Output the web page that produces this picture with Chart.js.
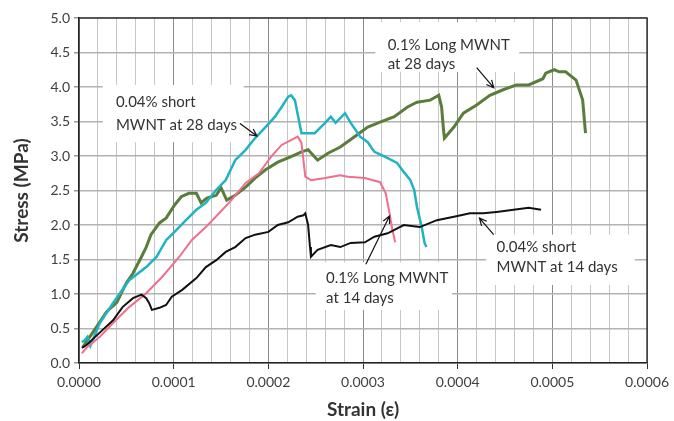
<!DOCTYPE html>
<html>
<head>
<meta charset="utf-8">
<script src="https://cdn.jsdelivr.net/npm/chart.js@4.4.1/dist/chart.umd.min.js"></script>
<style>
  html, body { margin: 0; padding: 0; background: #fff; }
  #wrap { width: 674px; height: 421px; }
</style>
</head>
<body>
<div id="wrap"><canvas id="chart"></canvas></div>
<script>
// Strain values are written in units of 1e-4, stress in MPa
const STRAIN_UNIT = 1e-4;

const xTicks = [0, 1, 2, 3, 4, 5, 6];
const yTicks = [0, 0.5, 1, 1.5, 2, 2.5, 3, 3.5, 4, 4.5, 5];

// 0.1% Long MWNT at 28 days (green)
const long28Strain = [0.04, 0.15, 0.29, 0.40, 0.50, 0.57, 0.66, 0.71, 0.76, 0.85, 0.92, 1.01, 1.08, 1.16, 1.24, 1.29, 1.35, 1.45, 1.50, 1.56, 1.65, 1.76, 1.86, 1.97, 2.10, 2.24, 2.35, 2.42, 2.52, 2.63, 2.76, 2.91, 3.05, 3.18, 3.33, 3.47, 3.57, 3.71, 3.80, 3.83, 3.85, 3.86, 3.96, 4.06, 4.20, 4.34, 4.48, 4.62, 4.75, 4.90, 4.93, 5.02, 5.07, 5.14, 5.25, 5.32, 5.35];
const long28Stress = [0.23, 0.45, 0.74, 0.88, 1.16, 1.30, 1.54, 1.68, 1.86, 2.03, 2.10, 2.29, 2.41, 2.46, 2.46, 2.32, 2.39, 2.43, 2.54, 2.36, 2.43, 2.55, 2.68, 2.80, 2.91, 2.99, 3.06, 3.09, 2.94, 3.04, 3.13, 3.28, 3.42, 3.49, 3.57, 3.71, 3.78, 3.81, 3.88, 3.71, 3.38, 3.26, 3.42, 3.62, 3.74, 3.88, 3.96, 4.03, 4.03, 4.12, 4.20, 4.25, 4.22, 4.22, 4.10, 3.81, 3.33];

// 0.04% short MWNT at 28 days (cyan)
const short28Strain = [0.03, 0.06, 0.09, 0.12, 0.22, 0.36, 0.53, 0.71, 0.82, 0.92, 1.03, 1.13, 1.24, 1.34, 1.45, 1.55, 1.65, 1.76, 1.86, 1.97, 2.07, 2.14, 2.21, 2.24, 2.28, 2.35, 2.49, 2.60, 2.66, 2.71, 2.81, 2.87, 2.97, 3.05, 3.12, 3.23, 3.36, 3.43, 3.50, 3.54, 3.57, 3.62, 3.65, 3.67];
const short28Stress = [0.30, 0.33, 0.38, 0.25, 0.58, 0.87, 1.20, 1.39, 1.54, 1.78, 1.93, 2.07, 2.22, 2.32, 2.51, 2.65, 2.94, 3.09, 3.26, 3.42, 3.57, 3.71, 3.86, 3.88, 3.81, 3.33, 3.33, 3.48, 3.57, 3.48, 3.62, 3.48, 3.28, 3.20, 3.06, 2.99, 2.90, 2.77, 2.65, 2.51, 2.26, 1.97, 1.74, 1.68];

// 0.1% Long MWNT at 14 days (pink)
const long14Strain = [0.03, 0.08, 0.22, 0.36, 0.53, 0.71, 0.88, 1.06, 1.19, 1.34, 1.48, 1.61, 1.76, 1.90, 2.03, 2.14, 2.24, 2.31, 2.35, 2.39, 2.45, 2.60, 2.76, 2.84, 3.02, 3.18, 3.24, 3.28, 3.31, 3.34];
const long14Stress = [0.14, 0.22, 0.38, 0.58, 0.81, 1.01, 1.25, 1.54, 1.78, 1.97, 2.17, 2.36, 2.61, 2.75, 2.99, 3.16, 3.23, 3.28, 3.19, 2.70, 2.65, 2.68, 2.72, 2.70, 2.68, 2.62, 2.46, 2.17, 1.93, 1.75];

// 0.04% short MWNT at 14 days (black)
const short14Strain = [0.03, 0.08, 0.25, 0.36, 0.46, 0.57, 0.66, 0.71, 0.74, 0.77, 0.85, 0.92, 0.98, 1.09, 1.24, 1.34, 1.45, 1.55, 1.65, 1.76, 1.86, 2.00, 2.10, 2.21, 2.31, 2.37, 2.39, 2.42, 2.44, 2.45, 2.52, 2.66, 2.76, 2.87, 3.02, 3.12, 3.26, 3.43, 3.60, 3.78, 3.96, 4.13, 4.27, 4.41, 4.59, 4.75, 4.88];
const short14Stress = [0.22, 0.26, 0.48, 0.62, 0.81, 0.94, 0.99, 0.94, 0.87, 0.77, 0.80, 0.84, 0.96, 1.06, 1.23, 1.39, 1.49, 1.61, 1.68, 1.81, 1.86, 1.90, 2.00, 2.04, 2.12, 2.14, 2.17, 2.00, 1.68, 1.54, 1.64, 1.71, 1.68, 1.74, 1.75, 1.83, 1.88, 2.00, 1.97, 2.07, 2.12, 2.17, 2.17, 2.19, 2.22, 2.25, 2.22];

// Callout labels (strain in 1e-4, stress in MPa)
const notes = [
  { lines: ['0.04% short', 'MWNT at 28 days'], box: [0.25, 4.03, 1.74, 3.20], textX: 0.39, textY: [3.78, 3.45], arrow: [[1.70, 3.47], [1.88, 3.29]] },
  { lines: ['0.1% Long MWNT', 'at 28 days'], box: [3.13, 4.94, 4.65, 4.22], textX: 3.26, textY: [4.61, 4.33], arrow: [[4.20, 4.28], [4.38, 3.99]] },
  { lines: ['0.1% Long MWNT', 'at 14 days'], box: [2.50, 1.46, 3.94, 0.77], textX: 2.61, textY: [1.23, 0.94], arrow: [[3.03, 1.43], [3.28, 2.13]] },
  { lines: ['0.04% short', 'MWNT at 14 days'], box: [4.30, 1.86, 5.87, 1.13], textX: 4.41, textY: [1.68, 1.39], arrow: [[4.38, 1.86], [4.23, 2.10]] }
];

function toPoints(xs, ys) {
  return xs.map((v, i) => ({ x: v * STRAIN_UNIT, y: ys[i] }));
}

function line(data, color, width) {
  return {
    data: data,
    borderColor: color,
    borderWidth: width,
    pointRadius: 0,
    showLine: true,
    tension: 0,
    fill: false
  };
}

const notesPlugin = {
  id: 'notes',
  beforeDatasetsDraw(chart) {
    const { ctx, chartArea: a, scales: { x, y } } = chart;
    const X = v => x.getPixelForValue(v * STRAIN_UNIT);
    const Y = v => y.getPixelForValue(v);
    ctx.save();
    // frame on top and right
    ctx.strokeStyle = '#333';
    ctx.lineWidth = 1.5;
    ctx.beginPath();
    ctx.moveTo(a.left, a.top);
    ctx.lineTo(a.right, a.top);
    ctx.lineTo(a.right, a.bottom);
    ctx.stroke();
    notes.forEach(n => {
      ctx.fillStyle = '#fff';
      ctx.fillRect(X(n.box[0]), Y(n.box[1]), X(n.box[2]) - X(n.box[0]), Y(n.box[3]) - Y(n.box[1]));
      ctx.fillStyle = '#333';
      ctx.font = '15px Lato';
      ctx.textBaseline = 'middle';
      n.lines.forEach((t, i) => ctx.fillText(t, X(n.textX), Y(n.textY[i])));
    });
    ctx.restore();
  },
  afterDatasetsDraw(chart) {
    const { ctx, scales: { x, y } } = chart;
    const X = v => x.getPixelForValue(v * STRAIN_UNIT);
    const Y = v => y.getPixelForValue(v);
    ctx.save();
    ctx.strokeStyle = '#111';
    ctx.lineWidth = 1.2;
    notes.forEach(n => {
      const x0 = X(n.arrow[0][0]), y0 = Y(n.arrow[0][1]);
      const x1 = X(n.arrow[1][0]), y1 = Y(n.arrow[1][1]);
      const ang = Math.atan2(y1 - y0, x1 - x0);
      ctx.beginPath();
      ctx.moveTo(x0, y0);
      ctx.lineTo(x1, y1);
      ctx.moveTo(x1 - 8 * Math.cos(ang - 0.45), y1 - 8 * Math.sin(ang - 0.45));
      ctx.lineTo(x1, y1);
      ctx.lineTo(x1 - 8 * Math.cos(ang + 0.45), y1 - 8 * Math.sin(ang + 0.45));
      ctx.stroke();
    });
    ctx.restore();
  }
};

Chart.defaults.font.family = 'Lato, "DejaVu Sans", sans-serif';

new Chart(document.getElementById('chart'), {
  type: 'scatter',
  data: {
    datasets: [
      line(toPoints(short14Strain, short14Stress), '#111111', 2),
      line(toPoints(long14Strain, long14Stress), '#ef6f8c', 2),
      line(toPoints(short28Strain, short28Stress), '#1fb3c4', 2.5),
      line(toPoints(long28Strain, long28Stress), '#5b7d3b', 3)
    ]
  },
  options: {
    responsive: true,
    maintainAspectRatio: false,
    animation: false,
    layout: { padding: { top: 18, right: 22, bottom: 0, left: 0 } },
    plugins: { legend: { display: false }, tooltip: { enabled: false } },
    scales: {
      x: {
        type: 'linear',
        min: xTicks[0] * STRAIN_UNIT,
        max: xTicks[xTicks.length - 1] * STRAIN_UNIT,
        afterFit: s => { s.height = 58; },
        // five minor grid steps between labelled ticks
        afterBuildTicks: s => {
          const ticks = [];
          for (let i = 0; i <= (xTicks.length - 1) * 5; i++) ticks.push({ value: i * STRAIN_UNIT / 5 });
          s.ticks = ticks;
        },
        ticks: {
          autoSkip: false,
          maxRotation: 0,
          padding: 5,
          color: '#404040',
          font: { size: 14 },
          callback: (v, i) => (i % 5 === 0 ? (xTicks[i / 5] * STRAIN_UNIT).toFixed(4) : '')
        },
        grid: {
          color: c => (c.index % 5 === 0 ? '#8a8a8a' : '#c6c6c6'),
          lineWidth: 1,
          tickLength: 6,
          tickColor: c => (c.index % 5 === 0 ? '#333' : 'rgba(0,0,0,0)')
        },
        border: { color: '#222', width: 1.5 },
        title: {
          display: true,
          text: 'Strain (ε)',
          color: '#333',
          font: { size: 19, weight: 'bold' },
          padding: { top: 2, bottom: 0 }
        }
      },
      y: {
        min: yTicks[0],
        max: yTicks[yTicks.length - 1],
        afterFit: s => { s.width = 79; },
        afterBuildTicks: s => { s.ticks = yTicks.map(v => ({ value: v })); },
        ticks: {
          padding: 4,
          color: '#404040',
          font: { size: 14 },
          callback: v => v.toFixed(1)
        },
        grid: { color: '#b2b2b2', lineWidth: 1.5, tickLength: 5, tickColor: '#999' },
        border: { color: '#222', width: 1.5 },
        title: {
          display: true,
          text: 'Stress (MPa)',
          color: '#333',
          font: { size: 19, weight: 'bold' },
          padding: { top: 10, bottom: 0 }
        }
      }
    }
  },
  plugins: [notesPlugin]
});
</script>
</body>
</html>
